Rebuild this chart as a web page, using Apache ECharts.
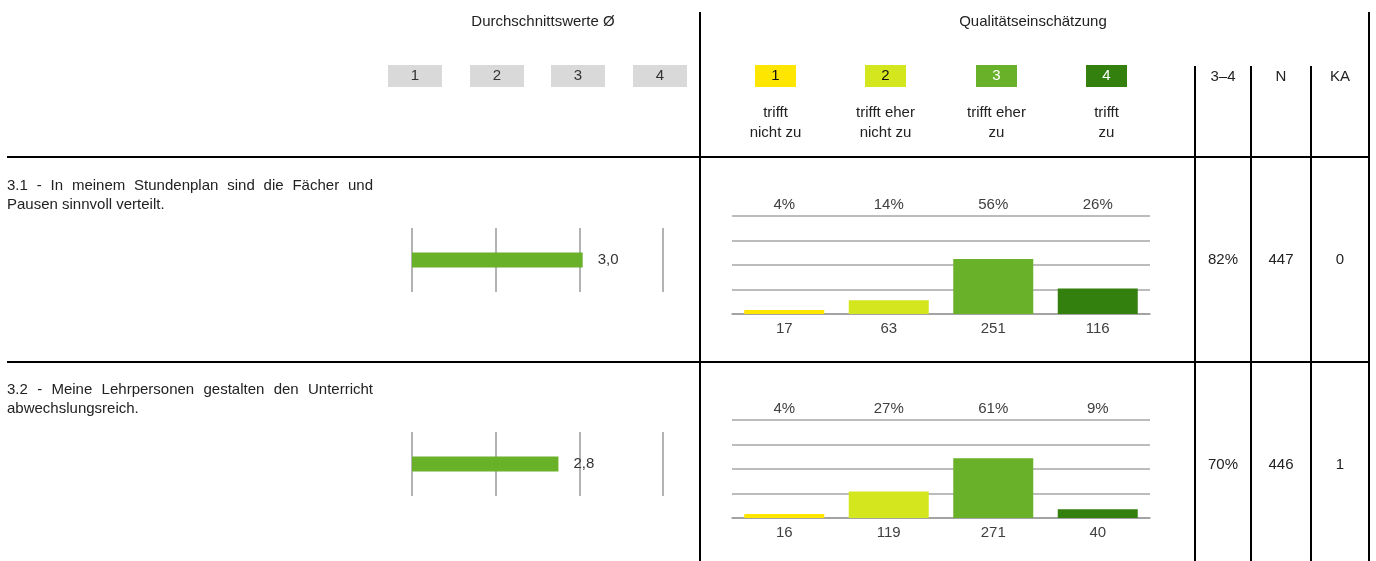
<!DOCTYPE html>
<html>
<head>
<meta charset="utf-8">
<script src="https://cdn.jsdelivr.net/npm/echarts@6/dist/echarts.min.js"></script>
<style>
html,body{margin:0;padding:0;background:#fff;}
#main{width:1376px;height:561px;}
</style>
</head>
<body>
<div id="main"></div>
<script>
// ---------- data ----------
const headerLeft = 'Durchschnittswerte Ø';
const headerRight = 'Qualitätseinschätzung';
const scaleLabels = ['1', '2', '3', '4'];
const answerLabels = [['trifft', 'nicht zu'], ['trifft eher', 'nicht zu'], ['trifft eher', 'zu'], ['trifft', 'zu']];
const tableHeaders = ['3–4', 'N', 'KA'];
const question1 = ['3.1 - In meinem Stundenplan sind die Fächer und', 'Pausen sinnvoll verteilt.'];
const question2 = ['3.2 - Meine Lehrpersonen gestalten den Unterricht', 'abwechslungsreich.'];
const means = [3.04, 2.75];
const counts1 = [17, 63, 251, 116];
const counts2 = [16, 119, 271, 40];
const pct1 = [4, 14, 56, 26];
const pct2 = [4, 27, 61, 9];
const share34 = ['82%', '70%'];
const nValues = ['447', '446'];
const kaValues = ['0', '1'];
const answerColors = ['#ffe600', '#d4e61e', '#6ab12a', '#33800f'];

// ---------- helpers ----------
const FF = "'Liberation Sans', Arial, sans-serif";
const FONT = '15px ' + FF;
const measureCtx = document.createElement('canvas').getContext('2d');
measureCtx.font = FONT;

function txt(text, x, y, align, opts) {
  opts = opts || {};
  return {
    type: 'text', x: x, y: y, silent: true,
    style: {
      text: text, fill: opts.fill || '#222', font: opts.font || FONT,
      textAlign: align || 'center', textVerticalAlign: 'middle'
    }
  };
}
function line(x1, y1, x2, y2, color, w) {
  return { type: 'line', silent: true, shape: { x1: x1, y1: y1, x2: x2, y2: y2 },
    style: { stroke: color || '#000', lineWidth: w || 2 } };
}
function justified(textLine, x0, x1, y) {
  const words = textLine.split(' ');
  const widths = words.map(w => measureCtx.measureText(w).width);
  const total = widths.reduce((a, b) => a + b, 0);
  const gap = (x1 - x0 - total) / (words.length - 1);
  const out = [];
  let x = x0;
  words.forEach((w, i) => { out.push(txt(w, x, y, 'left')); x += widths[i] + gap; });
  return out;
}

const graphics = [];
// header texts
graphics.push(txt(headerLeft, 543, 22));
graphics.push(txt(headerRight, 1033, 22));
// grey scale boxes
[388, 470, 551, 633].forEach((x, i) => {
  graphics.push({ type: 'rect', silent: true, shape: { x: x, y: 65, width: 54, height: 22 }, style: { fill: '#d9d9d9' } });
  graphics.push(txt(scaleLabels[i], x + 27, 76, 'center', { fill: '#333' }));
});
// coloured answer boxes + labels
[755, 865, 976, 1086].forEach((x, i) => {
  graphics.push({ type: 'rect', silent: true, shape: { x: x, y: 65, width: 41, height: 22 }, style: { fill: answerColors[i] } });
  graphics.push(txt(scaleLabels[i], x + 20.5, 76, 'center', { fill: i >= 2 ? '#fff' : '#111' }));
  graphics.push(txt(answerLabels[i][0], x + 20.5, 113));
  graphics.push(txt(answerLabels[i][1], x + 20.5, 133));
});
// table headers
const colCenters = [1223, 1281, 1340];
tableHeaders.forEach((h, i) => graphics.push(txt(h, colCenters[i], 77)));
// table values
[[share34, 260], [nValues, 260], [kaValues, 260]].forEach((arr, i) => {
  graphics.push(txt(arr[0][0], colCenters[i], 260));
  graphics.push(txt(arr[0][1], colCenters[i], 465));
});
// questions
graphics.push(...justified(question1[0], 7, 373, 186));
graphics.push(txt(question1[1], 7, 205, 'left'));
graphics.push(...justified(question2[0], 7, 373, 390));
graphics.push(txt(question2[1], 7, 409, 'left'));
// lines
graphics.push(line(700, 12, 700, 561));
graphics.push(line(7, 157, 1369, 157));
graphics.push(line(7, 362, 1369, 362));
graphics.push(line(1195, 66, 1195, 561));
graphics.push(line(1251, 66, 1251, 561));
graphics.push(line(1311, 66, 1311, 561));
graphics.push(line(1369, 12, 1369, 561));

// ---------- axes ----------
function meanX(gi) {
  return { gridIndex: gi, type: 'value', min: 1, max: 4, interval: 1,
    axisLine: { show: false }, axisTick: { show: false }, axisLabel: { show: false },
    splitLine: { show: true, lineStyle: { color: '#9a9a9a', width: 1.5 } } };
}
function meanY(gi) {
  return { gridIndex: gi, type: 'category', data: [''], show: false };
}
function qBottom(gi, counts) {
  return { gridIndex: gi, type: 'category', position: 'bottom', data: counts.map(String),
    axisLine: { show: true, lineStyle: { color: '#9a9a9a', width: 1.5 } }, axisTick: { show: false },
    axisLabel: { color: '#404040', fontSize: 15, fontFamily: FF, margin: 7 } };
}
function qTop(gi, pct) {
  return { gridIndex: gi, type: 'category', position: 'top', data: pct.map(v => v + '%'),
    axisLine: { show: false }, axisTick: { show: false },
    axisLabel: { color: '#404040', fontSize: 15, fontFamily: FF, margin: 4 } };
}
function qY(gi) {
  return { gridIndex: gi, type: 'value', min: 0, max: 100, interval: 25,
    axisLine: { show: false }, axisTick: { show: false }, axisLabel: { show: false },
    splitLine: { show: true, lineStyle: { color: '#a6a6a6', width: 1.5 } } };
}
function meanSeries(idx) {
  return { type: 'bar', xAxisIndex: idx, yAxisIndex: idx, data: [means[idx]], barWidth: 15, clip: true,
    itemStyle: { color: '#6ab12a' }, silent: true,
    label: { show: true, position: 'right', distance: 15, color: '#333', fontSize: 15, fontFamily: FF,
      formatter: p => p.value.toFixed(1).replace('.', ',') } };
}
function qSeries(xi, yi, pct) {
  return { type: 'bar', xAxisIndex: xi, yAxisIndex: yi, barWidth: 80, silent: true,
    data: pct.map((v, i) => ({ value: v, itemStyle: { color: answerColors[i] } })) };
}

const option = {
  animation: false,
  textStyle: { fontFamily: FF },
  grid: [
    { left: 412, width: 251, top: 228, height: 64 },
    { left: 412, width: 251, top: 432, height: 64 },
    { left: 732, width: 418, top: 216, height: 98 },
    { left: 732, width: 418, top: 420, height: 98 }
  ],
  xAxis: [meanX(0), meanX(1), qBottom(2, counts1), qTop(2, pct1), qBottom(3, counts2), qTop(3, pct2)],
  yAxis: [meanY(0), meanY(1), qY(2), qY(3)],
  series: [meanSeries(0), meanSeries(1), qSeries(2, 2, pct1), qSeries(4, 3, pct2)],
  graphic: { elements: graphics }
};
const chart = echarts.init(document.getElementById('main'), null, { renderer: 'canvas' });
chart.setOption(option);
</script>
</body>
</html>
